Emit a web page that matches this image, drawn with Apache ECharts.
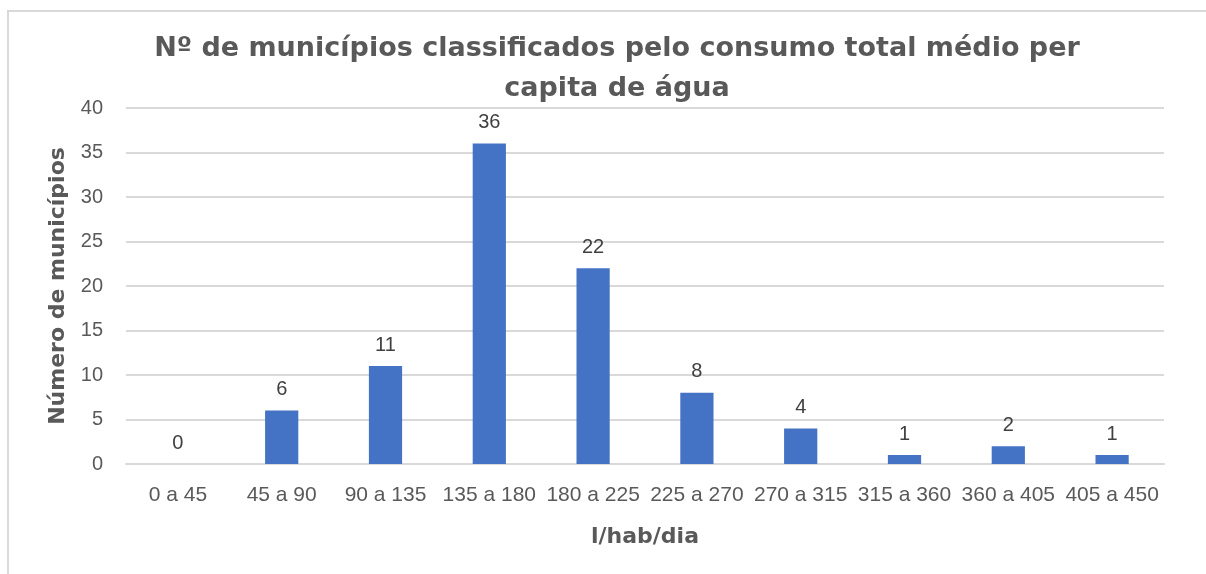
<!DOCTYPE html>
<html>
<head>
<meta charset="utf-8">
<script src="https://cdn.jsdelivr.net/npm/echarts@6/dist/echarts.min.js"></script>
<style>
  html, body { margin: 0; padding: 0; background: #fff; }
  .frame {
    position: absolute; left: 7px; top: 10px; width: 1199px; height: 564px;
    border-left: 2px solid #d9d9d9; border-top: 2px solid #d9d9d9;
  }
  #chart { position: absolute; left: 0; top: 0; width: 1206px; height: 574px; }
</style>
</head>
<body>
<div class="frame"></div>
<div id="chart"></div>
<script>
const categories = ['0 a 45', '45 a 90', '90 a 135', '135 a 180', '180 a 225',
  '225 a 270', '270 a 315', '315 a 360', '360 a 405', '405 a 450']
const municipios = [0, 6, 11, 36, 22, 8, 4, 1, 2, 1]

const chart = echarts.init(document.getElementById('chart'), null, { renderer: 'canvas' })

const option = {
  backgroundColor: 'transparent',
  animation: false,
  title: {
    text: 'Nº de municípios classificados pelo consumo total médio per\ncapita de água',
    left: 612,
    top: 24,
    textAlign: 'center',
    textStyle: {
      fontFamily: 'DejaVu Sans',
      fontWeight: 'bold',
      fontSize: 27,
      lineHeight: 40,
      color: '#595959',
    },
  },
  grid: { left: 126, right: 42, top: 108, bottom: 110 },
  xAxis: {
    type: 'category',
    data: categories,
    name: 'l/hab/dia',
    nameLocation: 'middle',
    nameGap: 62,
    nameTextStyle: { fontFamily: 'DejaVu Sans', fontWeight: 'bold', fontSize: 22, color: '#595959' },
    axisLine: { lineStyle: { color: '#d9d9d9', width: 2 } },
    axisTick: { show: false },
    axisLabel: { fontFamily: 'Liberation Sans', fontSize: 21, color: '#595959', margin: 21, interval: 0 },
  },
  yAxis: {
    type: 'value',
    min: 0,
    max: 40,
    interval: 5,
    name: 'Número de municípios',
    nameLocation: 'middle',
    nameGap: 57,
    nameTextStyle: { fontFamily: 'DejaVu Sans', fontWeight: 'bold', fontSize: 22, color: '#595959' },
    axisLine: { show: false },
    axisTick: { show: false },
    axisLabel: { fontFamily: 'Liberation Sans', fontSize: 20, color: '#595959', margin: 23 },
    splitLine: { lineStyle: { color: '#d9d9d9', width: 2 } },
  },
  series: [
    {
      type: 'bar',
      data: municipios,
      barWidth: '32%',
      itemStyle: { color: '#4472c4' },
      label: {
        show: true,
        position: 'top',
        distance: 11,
        fontFamily: 'Liberation Sans',
        fontSize: 20,
        color: '#404040',
      },
    },
  ],
}

chart.setOption(option)
</script>
</body>
</html>
